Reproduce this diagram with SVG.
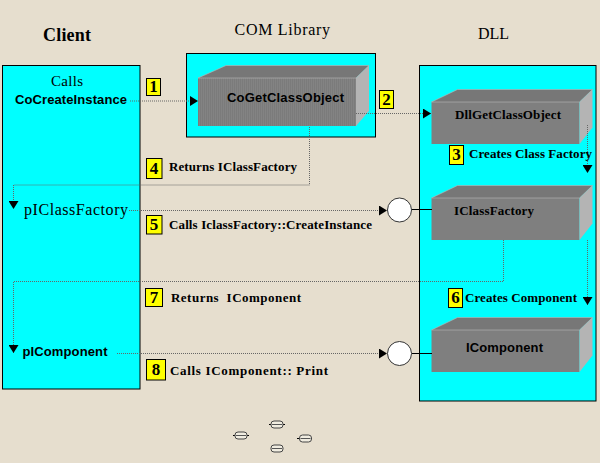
<svg xmlns="http://www.w3.org/2000/svg" width="600" height="463" viewBox="0 0 600 463">
<style>
.box{fill:#00ffff;stroke:#000;stroke-width:1}
.front{fill:url(#st)}
.top{fill:#777777;stroke:#b8b8b8;stroke-width:.6}
.side{fill:#b4b4b4}
.num{fill:#ffff00;stroke:#000;stroke-width:1}
text{font-family:"Liberation Serif","DejaVu Serif",serif;font-weight:bold;fill:#000}
.nb{font-weight:normal}
.n{font-size:17px;text-anchor:middle}
.l{font-size:13px}
.ss{font-family:"Liberation Sans","DejaVu Sans",sans-serif;font-size:13px}
.c{fill:none;stroke:#666;stroke-width:1;stroke-dasharray:1 1}
.s{fill:none;stroke:#000;stroke-width:1}
.circ{fill:#fff;stroke:#333;stroke-width:1}
.clip{fill:#f0ece0;stroke:#444;stroke-width:1}
.tick{fill:none;stroke:#000;stroke-width:1}
.inner{fill:none;stroke:#555;stroke-width:1}
</style>
<defs>
<pattern id="st" width="2" height="2" patternUnits="userSpaceOnUse"><rect width="2" height="2" fill="#838383"/><rect width="1" height="2" fill="#7b7b7b"/></pattern>
<marker id="a" markerWidth="9" markerHeight="10" refX="8" refY="5" orient="auto" markerUnits="userSpaceOnUse"><path d="M0,0L8,5L0,10z" fill="#000"/></marker>
<g id="block"><path class="front" d="M0,12.500H148V54.500H0z"/><path class="top" d="M0,12.500L26,0H161L148,12.500z"/><path class="side" d="M148,12.500L161,0V38L148,54.500z"/></g>
</defs>
<rect width="600" height="463" fill="#e6dece"/>
<text x="43" y="41" font-size="18" textLength="48">Client</text>
<text class="nb" x="234.500" y="35" font-size="16" textLength="95.500">COM Library</text>
<text class="nb" x="478" y="39" font-size="16" textLength="31">DLL</text>

<g id="client"><rect class="box" x="2.500" y="65.500" width="137.500" height="323.500"/>
<text class="nb" x="51" y="86" font-size="15" textLength="32">Calls</text>
<text class="ss" x="15" y="104" textLength="112">CoCreateInstance</text>
<text class="nb" x="24" y="215" font-size="16" textLength="104">pIClassFactory</text>
<text class="ss" x="22.500" y="356" textLength="85">pIComponent</text></g>

<g id="comlib"><rect class="box" x="186.500" y="53.500" width="189" height="83.500"/>
<path class="front" d="M198,78H356V126H198z"/><path class="top" d="M198,78L226,65.500H369L356,78z"/><path class="side" d="M356,78L369,65.500V111L356,126z"/>
<text class="ss" x="227" y="102" textLength="117">CoGetClassObject</text></g>

<g id="dll"><rect class="box" x="419.500" y="65.500" width="176.500" height="335.500"/></g>
<g id="dllgetclassobject"><use href="#block" transform="translate(431.500,89.500)"/>
<text x="455" y="119" font-size="13" textLength="106">DllGetClassObject</text></g>
<g id="iclassfactory"><use href="#block" transform="translate(431.500,185.500)"/>
<text x="454" y="215" font-size="13" textLength="80">IClassFactory</text></g>
<g id="icomponent"><use href="#block" transform="translate(431.500,317.500)"/>
<text class="ss" x="466" y="352" textLength="77">IComponent</text></g>

<g id="connectors">
<path class="c" d="M130,101H198" marker-end="url(#a)"/>
<path class="c" d="M356,113.500H431" marker-end="url(#a)"/>
<path class="c" d="M309.500,127V185H13.500V209" marker-end="url(#a)"/>
<path class="c" d="M129,210.500H387" marker-end="url(#a)"/>
<path class="c" d="M503.500,240V281.500H13.500V353" marker-end="url(#a)"/>
<path class="c" d="M117,353.500H387" marker-end="url(#a)"/>
<path class="c" d="M587.500,125V173" marker-end="url(#a)"/>
<path class="c" d="M587.500,240V305" marker-end="url(#a)"/>
<path class="s" d="M411.500,209.500H432M411.500,353.500H432"/>
</g>
<g id="lollipop1"><circle class="circ" cx="399.500" cy="210" r="12"/></g>
<g id="lollipop2"><circle class="circ" cx="399.500" cy="353.500" r="12"/></g>

<g id="step1"><rect class="num" x="146.500" y="78.500" width="14" height="17"/><text class="n" x="153.500" y="92">1</text></g>
<g id="step2"><rect class="num" x="379.500" y="90.500" width="14" height="18"/><text class="n" x="386.500" y="105">2</text></g>
<g id="step3"><rect class="num" x="449.500" y="145.500" width="14" height="19"/><text class="n" x="456.500" y="160">3</text><text class="l" x="469" y="158" textLength="123">Creates Class Factory</text></g>
<g id="step4"><rect class="num" x="146.500" y="158.500" width="15.500" height="20"/><text class="n" x="154" y="174">4</text><text class="l" x="169" y="171" textLength="128">Returns IClassFactory</text></g>
<g id="step5"><rect class="num" x="146.500" y="215.500" width="15.500" height="18.500"/><text class="n" x="154" y="230">5</text><text class="l" x="169" y="229" textLength="203">Calls IclassFactory::CreateInstance</text></g>
<g id="step6"><rect class="num" x="448.500" y="288.500" width="14" height="19"/><text class="n" x="455.500" y="303">6</text><text class="l" x="465" y="302" textLength="112">Creates Component</text></g>
<g id="step7"><rect class="num" x="145.500" y="288.500" width="17" height="18"/><text class="n" x="154" y="303">7</text><text class="l" x="171" y="302" xml:space="preserve" textLength="130">Returns  IComponent</text></g>
<g id="step8"><rect class="num" x="146.500" y="359.500" width="19" height="20.500"/><text class="n" x="156" y="375">8</text><text class="l" x="170" y="375" xml:space="preserve" textLength="158">Calls IComponent:: Print</text></g>

<g id="handles">
<path class="tick" d="M233,435.500H249M269,424.500H285M297,438.500H303"/>
<rect class="clip" x="235" y="432" width="12" height="7" rx="3"/>
<rect class="clip" x="271" y="421" width="12" height="7" rx="3"/>
<rect class="clip" x="299.500" y="435" width="12" height="7" rx="3"/>
<rect class="clip" x="271" y="445" width="12" height="7" rx="3"/>
<path class="inner" d="M236,435.500H246M272,424.500H282M300.500,438.500H310.500M272,448.500H282"/>
</g>
</svg>
